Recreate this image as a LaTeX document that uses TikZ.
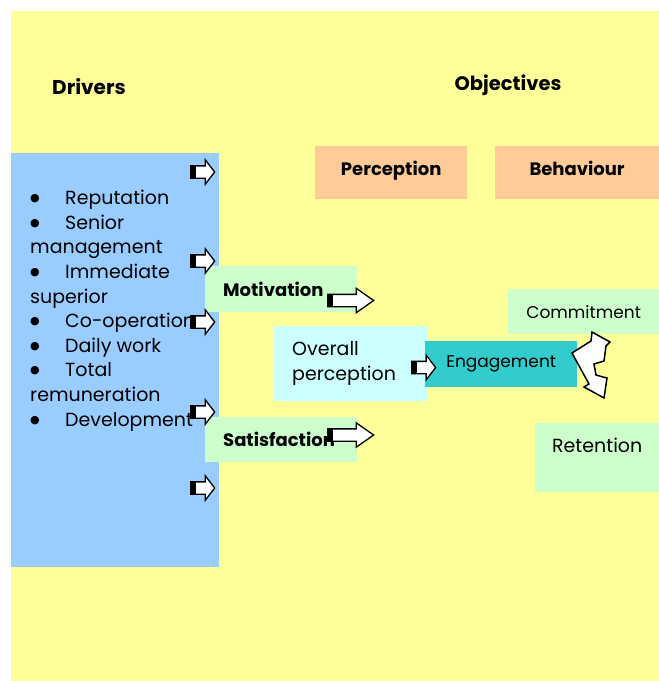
\documentclass[tikz,border=0pt]{standalone}
\usepackage{fontspec}
\setmainfont{Poppins}
\newfontfamily\symfont{DejaVu Sans}
\usetikzlibrary{positioning,shapes.arrows}
\definecolor{bgyellow}{HTML}{FFFF99}
\definecolor{driverblue}{HTML}{99CCFF}
\definecolor{peach}{HTML}{FFCC99}
\definecolor{palegreen}{HTML}{CCFFCC}
\definecolor{palecyan}{HTML}{CCFFFF}
\definecolor{teal}{HTML}{33CCCC}
\newcommand{\drivebullet}{\makebox[35pt][l]{\raisebox{3pt}{\symfont\fontsize{11}{12}\selectfont ●}}}
\begin{document}
\begin{tikzpicture}[
  x=1pt, y=-1pt,
  head/.style={font=\fontsize{20}{24}\selectfont\bfseries},
  box/.style={anchor=north west, inner sep=0pt, align=center},
  tagbox/.style={box, font=\fontsize{18}{22}\selectfont\bfseries},
  leftbox/.style={box, inner xsep=18pt, align=left},
  blockarrow/.style={single arrow, draw=black, fill=white, line width=1.3pt,
    inner xsep=0pt, inner ysep=5.5pt, single arrow head extend=6pt,
    single arrow tip angle=105, minimum height=24pt, anchor=west,
    path picture={\fill[black] (path picture bounding box.south west)
      rectangle ([xshift=5pt]path picture bounding box.north east -| path picture bounding box.west);}},
  longarrow/.style={blockarrow, minimum height=46pt, single arrow tip angle=70},
  twist/.style={draw=black, fill=white, line width=1.5pt, line join=miter}
]
\fill[bgyellow] (11,11) rectangle (659,681);
\useasboundingbox (0,0) rectangle (659,681);

\node[head] (drivers) at (89,87) {Drivers};
\node[head, font=\fontsize{19.5}{24}\selectfont\bfseries] (objectives) at (508,85) {Objectives};

\node[box, fill=driverblue, minimum width=208pt, minimum height=414pt] (driverbox) at (11,153) {};
\node[anchor=north west, inner sep=0pt, align=left, font=\fontsize{19}{24.6}\selectfont] (drivelist) at (30,190) {%
  \drivebullet Reputation\\
  \drivebullet Senior\\
  management\\
  \drivebullet Immediate\\
  superior\\
  \drivebullet Co-operation\\
  \drivebullet Daily work\\
  \drivebullet Total\\
  remuneration\\
  \drivebullet Development};

\node[tagbox, fill=peach, minimum width=152pt, minimum height=53pt, text depth=8pt] (perception) at (315,146) {Perception};
\node[tagbox, fill=peach, minimum width=165pt, minimum height=53pt, text depth=8pt, right=27pt of perception] (behaviour) {Behaviour};

\node[tagbox, leftbox, fill=palegreen, text width=116pt, minimum height=46pt] (motivation) at (205,266) {Motivation};
\node[tagbox, leftbox, fill=palegreen, text width=116pt, minimum height=45pt] (satisfaction) at (205,417) {Satisfaction};
\node[leftbox, fill=palecyan, text width=117pt, minimum height=75pt, font=\fontsize{19}{24.6}\selectfont] (overall) at (274,326) {Overall\\perception};
\node[box, fill=teal, minimum width=152pt, minimum height=46pt, font=\fontsize{17}{22}\selectfont] (engagement) at (425,341) {Engagement};
\node[box, fill=palegreen, minimum width=151pt, minimum height=45pt, font=\fontsize{17}{22}\selectfont] (commitment) at (508,289) {Commitment};
\node[box, fill=palegreen, minimum width=124pt, minimum height=69pt, font=\fontsize{19}{24}\selectfont] (retention) at (535,423) {Retention\\~};

\foreach \y/\n in {172/a,261/b,322/c,412/d,488/e}
  \node[blockarrow] (drive\n) at (190,\y) {};
\node[longarrow] (motarrow) at (327,300.5) {};
\node[longarrow] (satarrow) at (327,435) {};
\node[blockarrow] (engarrow) at (411,367.5) {};

\draw[twist] (592,332) -- (610,342) -- (606,346) -- (604,361) -- (594,364)
  -- (596,375) -- (603,377) -- (607,378) -- (604,398) -- (584,387)
  -- (589,384) -- (572,353) -- (591,341) -- cycle;
\end{tikzpicture}
\end{document}
